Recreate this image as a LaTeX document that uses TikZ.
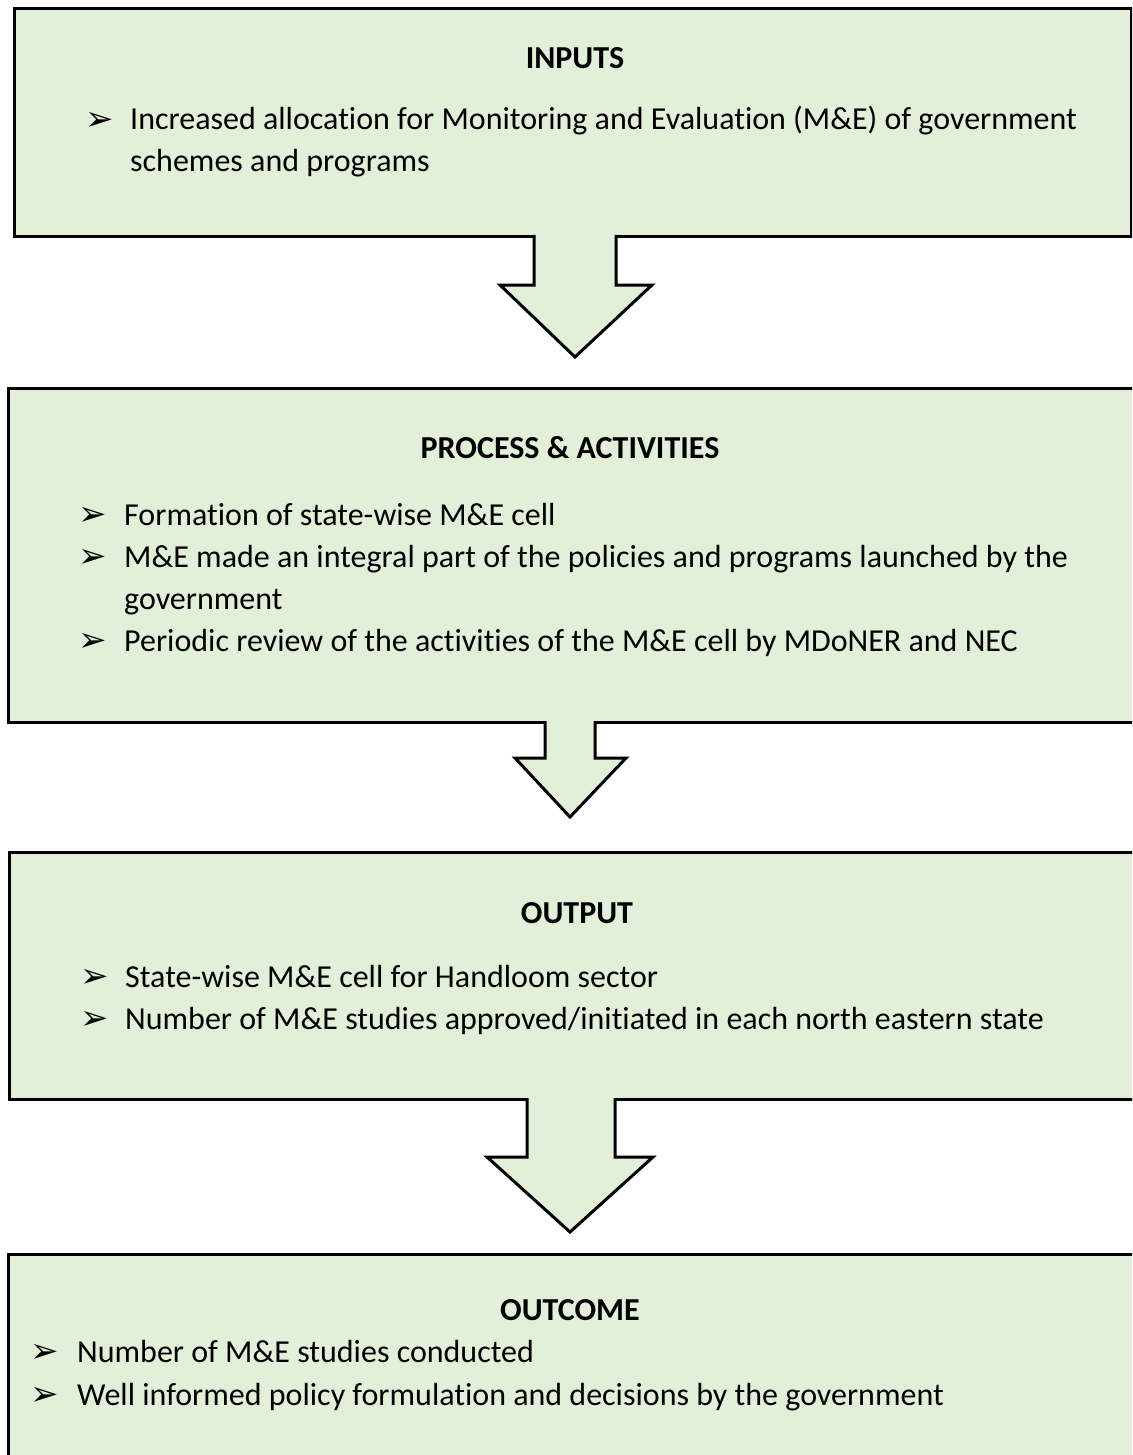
\documentclass[tikz,border=0pt]{standalone}
\usepackage{fontspec}
\setmainfont{Carlito}[Ligatures=CommonOff]
\newfontfamily\symfont{DejaVu Sans}
\definecolor{boxgreen}{HTML}{E2EFD9}
\begin{document}
\begin{tikzpicture}[x=1pt,y=-1pt,
  box/.style={draw=black, line width=3pt, fill=boxgreen, inner sep=0pt, anchor=north west},
  heading/.style={font=\fontsize{32}{38}\selectfont\bfseries, inner sep=0pt, anchor=center},
  item/.style={font=\fontsize{32}{38}\selectfont, inner sep=0pt, anchor=base west},
  bul/.style={font=\symfont\fontsize{34}{36}\selectfont, inner sep=0pt, anchor=west, yshift=-3pt},
  flowline/.style={draw=black, line width=3pt, line join=miter}
]
\clip (0,0) rectangle (1132,1455);

% ---- boxes ----
\node[box, minimum width=1117pt, minimum height=228pt] (inputs) at (13,7) {};
\node[box, minimum width=1140pt, minimum height=334pt] (process) at (7,387) {};
\node[box, minimum width=1140pt, minimum height=247pt] (output) at (8,851) {};
\node[box, minimum width=1140pt, minimum height=230pt] (outcome) at (7,1253) {};

% ---- block arrows between the boxes ----
\fill[boxgreen] (534,231) -- (534,285) -- (500,285) -- (575,357) -- (652,285) -- (616,285) -- (616,231) -- cycle;
\draw[flowline] (534,235) -- (534,285) -- (500,285) -- (575,357) -- (652,285) -- (616,285) -- (616,235);

\fill[boxgreen] (545,717) -- (545,758) -- (515,758) -- (570,817) -- (626,758) -- (595,758) -- (595,717) -- cycle;
\draw[flowline] (545,721) -- (545,758) -- (515,758) -- (570,817) -- (626,758) -- (595,758) -- (595,721);

\fill[boxgreen] (527,1094) -- (527,1157) -- (487,1157) -- (570,1232) -- (653,1157) -- (615,1157) -- (615,1094) -- cycle;
\draw[flowline] (527,1098) -- (527,1157) -- (487,1157) -- (570,1232) -- (653,1157) -- (615,1157) -- (615,1098);

% ---- INPUTS ----
\node[heading] (h1) at (575,58) {INPUTS};
\node[bul]  (b11) at (85,118) {➢};
\node[item] (t11) at (130,130) {Increased allocation for Monitoring and Evaluation (M\&E) of government};
\node[item] (t12) at (130,172) {schemes and programs};

% ---- PROCESS & ACTIVITIES ----
\node[heading] (h2) at (570,448) {PROCESS \& ACTIVITIES};
\node[bul]  (b21) at (78,513) {➢};
\node[item] (t21) at (124,525) {Formation of state-wise M\&E cell};
\node[bul]  (b22) at (78,555) {➢};
\node[item] (t22) at (124,567) {M\&E made an integral part of the policies and programs launched by the};
\node[item] (t23) at (124,609) {government};
\node[bul]  (b23) at (78,639) {➢};
\node[item] (t24) at (124,651) {Periodic review of the activities of the M\&E cell by MDoNER and NEC};

% ---- OUTPUT ----
\node[heading] (h3) at (577,913) {OUTPUT};
\node[bul]  (b31) at (80,975) {➢};
\node[item] (t31) at (125,987) {State-wise M\&E cell for Handloom sector};
\node[bul]  (b32) at (80,1017) {➢};
\node[item] (t32) at (125,1029) {Number of M\&E studies approved/initiated in each north eastern state};

% ---- OUTCOME ----
\node[heading] (h4) at (570,1310) {OUTCOME};
\node[bul]  (b41) at (30,1350) {➢};
\node[item] (t41) at (77,1362) {Number of M\&E studies conducted};
\node[bul]  (b42) at (30,1393) {➢};
\node[item] (t42) at (77,1405) {Well informed policy formulation and decisions by the government};
\end{tikzpicture}
\end{document}
